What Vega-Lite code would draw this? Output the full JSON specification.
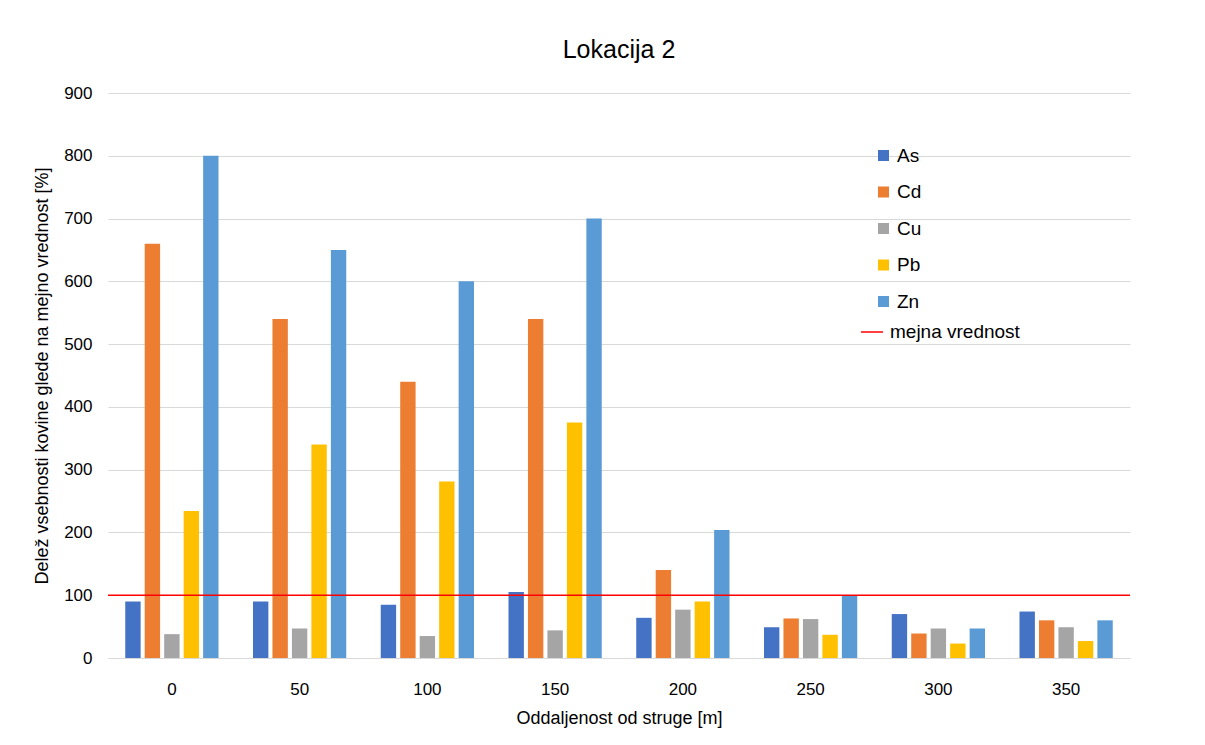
{
  "$schema": "https://vega.github.io/schema/vega-lite/v6.json",
  "width": 1022,
  "height": 565,
  "autosize": {"type": "none"},
  "padding": {"left": 108, "top": 93, "right": 75, "bottom": 87},
  "background": "white",
  "config": {"font": "Liberation Sans", "view": {"stroke": null}},
  "title": {"text": "Lokacija 2", "fontSize": 25, "fontWeight": "normal", "color": "#000000", "offset": 21, "anchor": "middle"},
  "data": {"values": [
    {"dist": 0, "metal": "As", "value": 90}, {"dist": 0, "metal": "Cd", "value": 660}, {"dist": 0, "metal": "Cu", "value": 38}, {"dist": 0, "metal": "Pb", "value": 234}, {"dist": 0, "metal": "Zn", "value": 800},
    {"dist": 50, "metal": "As", "value": 90}, {"dist": 50, "metal": "Cd", "value": 540}, {"dist": 50, "metal": "Cu", "value": 47}, {"dist": 50, "metal": "Pb", "value": 340}, {"dist": 50, "metal": "Zn", "value": 650},
    {"dist": 100, "metal": "As", "value": 85}, {"dist": 100, "metal": "Cd", "value": 440}, {"dist": 100, "metal": "Cu", "value": 35}, {"dist": 100, "metal": "Pb", "value": 281}, {"dist": 100, "metal": "Zn", "value": 600},
    {"dist": 150, "metal": "As", "value": 105}, {"dist": 150, "metal": "Cd", "value": 540}, {"dist": 150, "metal": "Cu", "value": 44}, {"dist": 150, "metal": "Pb", "value": 375}, {"dist": 150, "metal": "Zn", "value": 700},
    {"dist": 200, "metal": "As", "value": 64}, {"dist": 200, "metal": "Cd", "value": 140}, {"dist": 200, "metal": "Cu", "value": 77}, {"dist": 200, "metal": "Pb", "value": 90}, {"dist": 200, "metal": "Zn", "value": 204},
    {"dist": 250, "metal": "As", "value": 49}, {"dist": 250, "metal": "Cd", "value": 63}, {"dist": 250, "metal": "Cu", "value": 62}, {"dist": 250, "metal": "Pb", "value": 37}, {"dist": 250, "metal": "Zn", "value": 100},
    {"dist": 300, "metal": "As", "value": 70}, {"dist": 300, "metal": "Cd", "value": 39}, {"dist": 300, "metal": "Cu", "value": 47}, {"dist": 300, "metal": "Pb", "value": 23}, {"dist": 300, "metal": "Zn", "value": 47},
    {"dist": 350, "metal": "As", "value": 74}, {"dist": 350, "metal": "Cd", "value": 60}, {"dist": 350, "metal": "Cu", "value": 49}, {"dist": 350, "metal": "Pb", "value": 27}, {"dist": 350, "metal": "Zn", "value": 60}
  ]},
  "layer": [
    {
      "mark": {"type": "bar"},
      "encoding": {
        "x": {
          "field": "dist", "type": "ordinal",
          "scale": {"paddingInner": 0.27, "paddingOuter": 0.135},
          "axis": {"title": "Oddaljenost od struge [m]", "labelAngle": 0, "labelFontSize": 17, "labelColor": "#000000", "labelPadding": 23, "ticks": false, "domain": true, "domainColor": "#d9d9d9", "domainWidth": 1, "titleFontSize": 18, "titleFontWeight": "normal", "titleColor": "#000000", "titlePadding": 12}
        },
        "xOffset": {"field": "metal", "type": "nominal", "scale": {"paddingInner": 0.21, "paddingOuter": 0}},
        "y": {
          "field": "value", "type": "quantitative",
          "scale": {"domain": [0, 900]},
          "axis": {"title": "Delež vsebnosti kovine glede na mejno vrednost [%]", "values": [0, 100, 200, 300, 400, 500, 600, 700, 800, 900], "labelFontSize": 17, "labelColor": "#000000", "labelPadding": 16, "ticks": false, "domain": false, "grid": true, "gridColor": "#d9d9d9", "gridWidth": 1, "titleFontSize": 18, "titleFontWeight": "normal", "titleColor": "#000000", "titlePadding": 12}
        },
        "fill": {
          "field": "metal", "type": "nominal",
          "scale": {"domain": ["As", "Cd", "Cu", "Pb", "Zn"], "range": ["#4472C4", "#ED7D31", "#A5A5A5", "#FFC000", "#5B9BD5"]},
          "legend": {"title": null, "orient": "none", "legendX": 766, "legendY": 53, "padding": 0, "symbolType": "square", "symbolSize": 121, "symbolStrokeWidth": 0, "labelFontSize": 19, "labelColor": "#000000", "labelOffset": 4, "rowPadding": 16.5}
        }
      }
    },
    {
      "data": {"values": [{"value": 100, "label": "mejna vrednost"}]},
      "mark": {"type": "rule", "strokeWidth": 1.5},
      "encoding": {
        "y": {"field": "value", "type": "quantitative"},
        "stroke": {
          "field": "label", "type": "nominal",
          "scale": {"domain": ["mejna vrednost"], "range": ["#ff0000"]},
          "legend": {"title": null, "orient": "none", "legendX": 752, "legendY": 227, "padding": 0, "symbolType": "stroke", "symbolSize": 484, "symbolStrokeWidth": 1.5, "symbolStrokeColor": "#ff7f7f", "labelFontSize": 19, "labelColor": "#000000", "labelOffset": 6}
        }
      }
    }
  ]
}
